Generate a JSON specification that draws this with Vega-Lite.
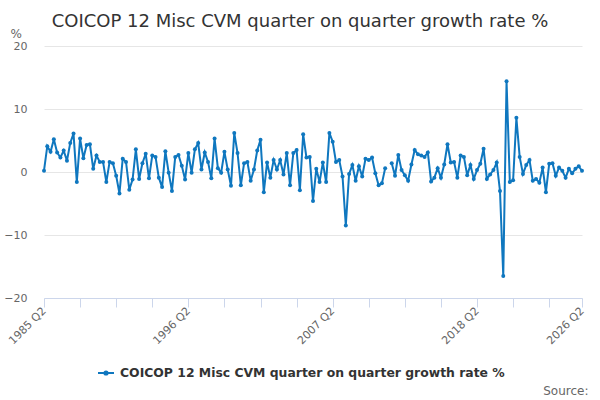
{
"$schema": "https://vega.github.io/schema/vega-lite/v6.json",
"width": 538, "height": 252,
"autosize": "none",
"padding": {"left": 44, "top": 46, "right": 18, "bottom": 102},
"background": "white",
"config": {"view": {"stroke": null}, "font": "DejaVu Sans"},
"title": {"text": "COICOP 12 Misc CVM quarter on quarter growth rate %", "fontSize": 18, "fontWeight": "normal", "color": "#333333", "anchor": "middle", "offset": 2, "dx": -13, "dy": 20, "font": "DejaVu Sans", "baseline": "alphabetic"},
"data": {"values": [
{"q":"1985 Q2","v":0.2},{"q":"1985 Q3","v":4.1},{"q":"1985 Q4","v":3.2},
{"q":"1986 Q1","v":5.2},{"q":"1986 Q2","v":3.1},{"q":"1986 Q3","v":2.3},{"q":"1986 Q4","v":3.4},
{"q":"1987 Q1","v":1.8},{"q":"1987 Q2","v":4.6},{"q":"1987 Q3","v":6.1},{"q":"1987 Q4","v":-1.6},
{"q":"1988 Q1","v":5.3},{"q":"1988 Q2","v":2.2},{"q":"1988 Q3","v":4.3},{"q":"1988 Q4","v":4.4},
{"q":"1989 Q1","v":0.5},{"q":"1989 Q2","v":2.6},{"q":"1989 Q3","v":1.6},{"q":"1989 Q4","v":1.6},
{"q":"1990 Q1","v":-1.6},{"q":"1990 Q2","v":1.6},{"q":"1990 Q3","v":1.4},{"q":"1990 Q4","v":-0.6},
{"q":"1991 Q1","v":-3.4},{"q":"1991 Q2","v":2.1},{"q":"1991 Q3","v":1.6},{"q":"1991 Q4","v":-2.8},
{"q":"1992 Q1","v":-1.2},{"q":"1992 Q2","v":3.6},{"q":"1992 Q3","v":-1.1},{"q":"1992 Q4","v":1.4},
{"q":"1993 Q1","v":2.9},{"q":"1993 Q2","v":-1.0},{"q":"1993 Q3","v":2.6},{"q":"1993 Q4","v":2.4},
{"q":"1994 Q1","v":-0.9},{"q":"1994 Q2","v":-2.4},{"q":"1994 Q3","v":3.3},{"q":"1994 Q4","v":-0.1},
{"q":"1995 Q1","v":-3.0},{"q":"1995 Q2","v":2.4},{"q":"1995 Q3","v":2.7},{"q":"1995 Q4","v":1.0},
{"q":"1996 Q1","v":-1.2},{"q":"1996 Q2","v":3.0},{"q":"1996 Q3","v":-0.1},{"q":"1996 Q4","v":3.6},
{"q":"1997 Q1","v":4.6},{"q":"1997 Q2","v":0.4},{"q":"1997 Q3","v":3.1},{"q":"1997 Q4","v":1.6},
{"q":"1998 Q1","v":-1.0},{"q":"1998 Q2","v":5.3},{"q":"1998 Q3","v":0.6},{"q":"1998 Q4","v":-0.1},
{"q":"1999 Q1","v":3.2},{"q":"1999 Q2","v":0.4},{"q":"1999 Q3","v":-2.2},{"q":"1999 Q4","v":6.2},
{"q":"2000 Q1","v":3.0},{"q":"2000 Q2","v":-2.1},{"q":"2000 Q3","v":1.4},{"q":"2000 Q4","v":1.6},
{"q":"2001 Q1","v":-1.4},{"q":"2001 Q2","v":0.4},{"q":"2001 Q3","v":3.4},{"q":"2001 Q4","v":5.1},
{"q":"2002 Q1","v":-3.2},{"q":"2002 Q2","v":1.5},{"q":"2002 Q3","v":-0.9},{"q":"2002 Q4","v":1.9},
{"q":"2003 Q1","v":0.4},{"q":"2003 Q2","v":1.9},{"q":"2003 Q3","v":-0.4},{"q":"2003 Q4","v":3.0},
{"q":"2004 Q1","v":-2.1},{"q":"2004 Q2","v":3.0},{"q":"2004 Q3","v":3.5},{"q":"2004 Q4","v":-2.9},
{"q":"2005 Q1","v":6.0},{"q":"2005 Q2","v":2.3},{"q":"2005 Q3","v":2.4},{"q":"2005 Q4","v":-4.6},
{"q":"2006 Q1","v":0.5},{"q":"2006 Q2","v":-1.6},{"q":"2006 Q3","v":1.5},{"q":"2006 Q4","v":-1.6},
{"q":"2007 Q1","v":6.2},{"q":"2007 Q2","v":4.8},{"q":"2007 Q3","v":1.6},{"q":"2007 Q4","v":1.9},
{"q":"2008 Q1","v":-0.7},{"q":"2008 Q2","v":-8.5},{"q":"2008 Q3","v":-0.3},{"q":"2008 Q4","v":1.1},
{"q":"2009 Q1","v":-1.4},{"q":"2009 Q2","v":0.9},{"q":"2009 Q3","v":-0.7},{"q":"2009 Q4","v":2.1},
{"q":"2010 Q1","v":1.9},{"q":"2010 Q2","v":2.3},{"q":"2010 Q3","v":-0.2},{"q":"2010 Q4","v":-2.1},
{"q":"2011 Q1","v":-1.8},{"q":"2011 Q2","v":0.6},{"q":"2011 Q3","v":null},{"q":"2011 Q4","v":1.4},
{"q":"2012 Q1","v":-0.6},{"q":"2012 Q2","v":2.7},{"q":"2012 Q3","v":0.3},{"q":"2012 Q4","v":-0.5},
{"q":"2013 Q1","v":-1.4},{"q":"2013 Q2","v":1.2},{"q":"2013 Q3","v":3.5},{"q":"2013 Q4","v":2.8},
{"q":"2014 Q1","v":2.6},{"q":"2014 Q2","v":2.4},{"q":"2014 Q3","v":3.1},{"q":"2014 Q4","v":-1.5},
{"q":"2015 Q1","v":-0.9},{"q":"2015 Q2","v":0.6},{"q":"2015 Q3","v":-0.9},{"q":"2015 Q4","v":1.2},
{"q":"2016 Q1","v":4.4},{"q":"2016 Q2","v":1.5},{"q":"2016 Q3","v":1.6},{"q":"2016 Q4","v":-0.9},
{"q":"2017 Q1","v":2.6},{"q":"2017 Q2","v":2.4},{"q":"2017 Q3","v":-0.5},{"q":"2017 Q4","v":1.1},
{"q":"2018 Q1","v":-1.1},{"q":"2018 Q2","v":0.3},{"q":"2018 Q3","v":1.3},{"q":"2018 Q4","v":3.7},
{"q":"2019 Q1","v":-1.1},{"q":"2019 Q2","v":-0.4},{"q":"2019 Q3","v":0.3},{"q":"2019 Q4","v":1.5},
{"q":"2020 Q1","v":-3.0},{"q":"2020 Q2","v":-16.5},{"q":"2020 Q3","v":14.4},{"q":"2020 Q4","v":-1.6},
{"q":"2021 Q1","v":-1.3},{"q":"2021 Q2","v":8.6},{"q":"2021 Q3","v":2.4},{"q":"2021 Q4","v":-0.3},
{"q":"2022 Q1","v":1.1},{"q":"2022 Q2","v":1.9},{"q":"2022 Q3","v":-1.4},{"q":"2022 Q4","v":-1.1},
{"q":"2023 Q1","v":-1.7},{"q":"2023 Q2","v":0.7},{"q":"2023 Q3","v":-3.2},{"q":"2023 Q4","v":1.3},
{"q":"2024 Q1","v":1.4},{"q":"2024 Q2","v":-0.6},{"q":"2024 Q3","v":0.7},{"q":"2024 Q4","v":0.2},
{"q":"2025 Q1","v":-0.9},{"q":"2025 Q2","v":0.5},{"q":"2025 Q3","v":-0.2},{"q":"2025 Q4","v":0.5},
{"q":"2026 Q1","v":0.9},{"q":"2026 Q2","v":0.2}
]},
"mark": {"type": "line", "strokeWidth": 2, "invalid": "break-paths-show-domains", "point": {"filled": true, "size": 16}},
"encoding": {
"x": {"field": "q", "type": "ordinal", "sort": null, "scale": {"type": "point", "padding": 0},
 "axis": {"title": "Source:", "titleX": 544, "titleY": 92, "titleAlign": "right", "titleBaseline": "middle", "titleFontSize": 12, "titleFontWeight": "normal", "titleColor": "#666666", "titleFont": "DejaVu Sans",
  "values": ["1985 Q2","1988 Q1","1990 Q4","1993 Q3","1996 Q2","1999 Q1","2001 Q4","2004 Q3","2007 Q2","2010 Q1","2012 Q4","2015 Q3","2018 Q2","2021 Q1","2023 Q4","2026 Q2"],
  "labelExpr": "indexof(['1985 Q2','1996 Q2','2007 Q2','2018 Q2','2026 Q2'], datum.value) >= 0 ? datum.value : ''",
  "labelAngle": -45, "labelAlign": "right", "labelBaseline": "middle", "labelPadding": 2, "labelFontSize": 11, "labelColor": "#666666", "labelFont": "DejaVu Sans", "labelOverlap": false,
  "domainColor": "#ccd6eb", "tickColor": "#ccd6eb", "tickSize": 9, "grid": false}},
"y": {"field": "v", "type": "quantitative", "scale": {"domain": [-20, 20], "nice": false},
 "axis": {"title": "%", "titleAngle": 0, "titleX": -34, "titleY": -13, "titleAlign": "left", "titleBaseline": "middle", "titleFontSize": 12, "titleFontWeight": "normal", "titleColor": "#666666", "titleFont": "DejaVu Sans",
  "values": [-20, -10, 0, 10, 20], "domain": false, "ticks": false, "labelPadding": 17, "labelFontSize": 11, "labelColor": "#666666", "labelFont": "DejaVu Sans", "gridColor": "#e6e6e6"}},
"color": {"datum": "COICOP 12 Misc CVM quarter on quarter growth rate %", "scale": {"range": ["#0f77bf"]},
 "legend": {"title": null, "orient": "none", "legendX": 53, "legendY": 318, "symbolType": "M-1,0H1M-0.2,0A0.2,0.2,0,1,0,0.2,0A0.2,0.2,0,1,0,-0.2,0", "symbolSize": 256, "symbolStrokeWidth": 2, "symbolFillColor": "#0f77bf", "symbolStrokeColor": "#0f77bf", "labelFontSize": 12.4, "labelFontWeight": "bold", "labelColor": "#333333", "labelFont": "DejaVu Sans", "labelLimit": 0, "labelOffset": 5}}
}
}
